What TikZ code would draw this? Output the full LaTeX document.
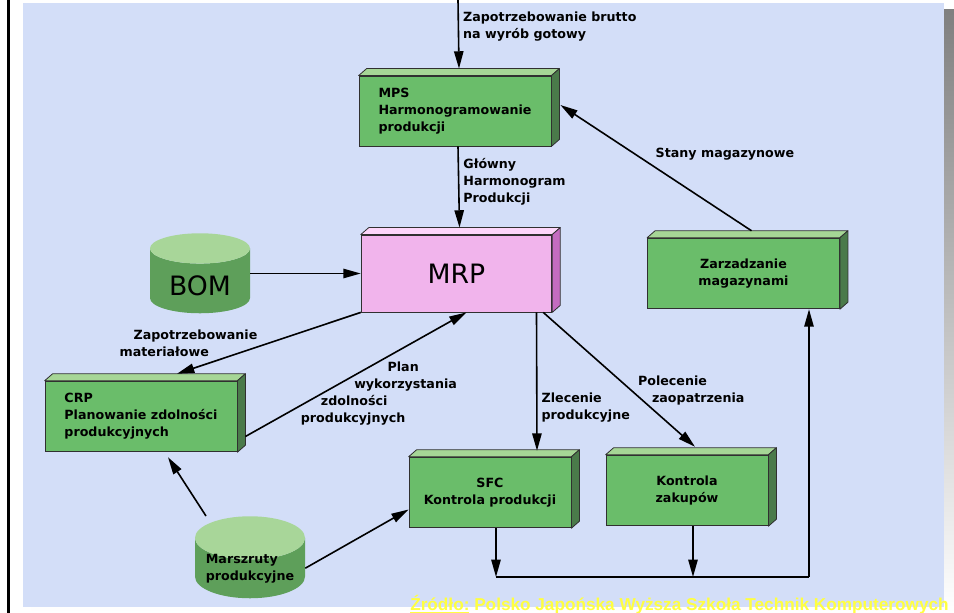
\documentclass[tikz,border=0pt]{standalone}
\usepackage{fontspec}
\setmainfont{DejaVu Sans}
\newfontfamily\srcfont{Liberation Sans}
\usetikzlibrary{arrows.meta,shapes.geometric}
\definecolor{panel}{HTML}{D3DEF8}
\definecolor{shade}{HTML}{808080}
\definecolor{edge}{HTML}{303030}
\definecolor{gfront}{HTML}{6ABD6A}
\definecolor{gtop}{HTML}{A6D696}
\definecolor{gside}{HTML}{4A7A4A}
\definecolor{pfront}{HTML}{F1B4EC}
\definecolor{ptop}{HTML}{FDD6FA}
\definecolor{pside}{HTML}{C46CC0}
\definecolor{cylbody}{HTML}{5E9F5A}
\definecolor{cyltop}{HTML}{A8D699}
\definecolor{src}{HTML}{FFFF40}
\begin{document}
\begin{tikzpicture}[x=0.75pt,y=-0.75pt,
font=\fontsize{9.5}{12.75}\selectfont\bfseries,
box/.style={draw=edge,line width=.6pt,fill=gfront,align=center,minimum height=53pt,inner sep=2pt},
wide/.style={box,minimum width=144pt},
narrow/.style={box,minimum width=121.5pt},
face/.style={draw=edge,line width=.6pt,line join=round},
db/.style={cylinder,shape border rotate=90,aspect=.49,cylinder uses custom fill,cylinder body fill=cylbody,cylinder end fill=cyltop,inner sep=0pt,anchor=north},
big/.style={font=\fontsize{20}{24}\selectfont\mdseries},
arr/.style={-{Triangle[length=13pt,width=7pt]},line width=1.2pt},
lbl/.style={align=left,inner sep=3pt}]
\useasboundingbox (0,0) rectangle (954,613);
\clip (0,0) rectangle (954,613);
\fill[shade](31,10) rectangle (954,613);
\fill[panel](23,3) rectangle (944,607);
\draw[line width=1.9pt](8.5,0)--(8.5,613);
\node[wide,align=left,minimum height=52.5pt](mps) at (455,111){MPS\\Harmonogramowanie\\produkcji};
\node[box,fill=pfront,minimum width=143pt,minimum height=57.75pt,big](mrp) at (456.5,273.5){MRP};
\node[wide](zarz) at (743.5,273.5){Zarzadzanie\\magazynami};
\node[wide,align=left](crp) at (141,416.5){CRP\\Planowanie zdolności\\produkcyjnych};
\node[narrow](sfc) at (490,492.5){SFC\\Kontrola produkcji};
\node[narrow](kz) at (687,490.5){Kontrola\\zakupów};
\node[db,minimum width=75pt,minimum height=60pt,big](bom) at (200,233){\raisebox{-11pt}[0pt][0pt]{BOM}};
\node[db,minimum width=82.5pt,minimum height=61.5pt](marsz) at (250,516){\raisebox{-2.5pt}[0pt][0pt]{\begin{tabular}{@{}l@{}}Marszruty\\produkcyjne\end{tabular}}};
\coordinate(in) at (458,0);
\coordinate(busL) at (496,577);
\coordinate(busK) at (693,577);
\coordinate(busR) at (809,577);
\foreach \n/\t/\s in {mps/gtop/gside,mrp/ptop/pside,zarz/gtop/gside,crp/gtop/gside,sfc/gtop/gside,kz/gtop/gside}{
\filldraw[face,fill=\t](\n.north west)--++(8,-7)--([shift={(8,-7)}]\n.north east)--(\n.north east)--cycle;
\filldraw[face,fill=\s](\n.north east)--++(8,-7)--([shift={(8,-7)}]\n.south east)--(\n.south east)--cycle;}
\draw[arr](in)--node[lbl,pos=.39,anchor=west](lBrutto){Zapotrzebowanie brutto\\na wyrób gotowy}([shift={(4,-7)}]mps.north);
\draw[arr]([shift={(3,0)}]mps.south)--node[lbl,pos=.43,anchor=west](lGlowny){Główny\\Harmonogram\\Produkcji}([shift={(3,-7)}]mrp.north);
\draw[arr](bom.east |- mrp.west)--(mrp.west);
\draw[arr]([shift={(8,-7)}]zarz.north)--node[lbl,pos=.61,anchor=west,xshift=12pt](lStany){Stany magazynowe}([shift={(9,-6)}]mps.east);
\draw[arr](mrp.south west)--node[lbl,pos=.5,anchor=east,xshift=-5pt](lMat){\hspace*{10.5pt}Zapotrzebowanie\\materiałowe}([shift={(36,-7)}]crp.north);
\draw[arr]([shift={(8,20)}]crp.east)--node[lbl,pos=.35,anchor=west,xshift=-20pt](lPlan){\hspace*{65pt}Plan\\\hspace*{40pt}wykorzystania\\\hspace*{15pt}zdolności\\produkcyjnych}([shift={(10,0)}]mrp.south);
\draw[arr]([shift={(80,0)}]mrp.south)--node[lbl,pos=.69,anchor=west](lZlec){Zlecenie\\produkcyjne}([shift={(47,-6)}]sfc.north);
\draw[arr]([shift={(-9,0)}]mrp.south east)--node[lbl,pos=.58,anchor=west,xshift=1.5pt](lPolec){Polecenie\\\hspace*{10.5pt}zaopatrzenia}([shift={(8,-8)}]kz.north);
\draw[arr]([shift={(-44,0)}]marsz.north)--([shift={(27,5)}]crp.south);
\draw[arr](marsz.east)--([shift={(0,17)}]sfc.west);
\draw[arr](sfc.south -| busL)--(busL);
\draw[arr](kz.south -| busK)--(busK);
\draw[line width=1.2pt](busL)--(busR);
\draw[arr](busR)--(zarz.south -| busR);
\node[anchor=base west,font=\srcfont\bfseries\fontsize{12.9}{15}\selectfont,text=src,inner sep=0pt](zrodlo) at (410,610){\underline{Źródło:} Polsko Japońska Wyższa Szkoła Technik Komputerowych};
\end{tikzpicture}
\end{document}
